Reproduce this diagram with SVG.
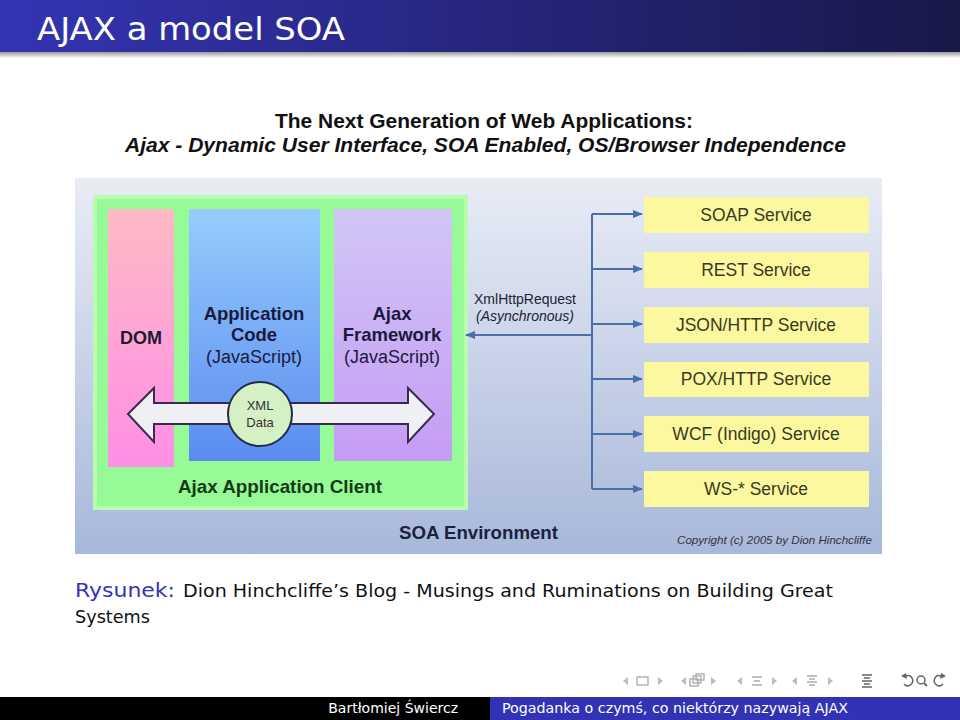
<svg xmlns="http://www.w3.org/2000/svg" width="960" height="720" viewBox="0 0 960 720">
<defs>
<linearGradient id="gTitle" x1="0" y1="0" x2="1" y2="0"><stop offset="0" stop-color="#3434b4"/><stop offset="1" stop-color="#181848"/></linearGradient>
<linearGradient id="gShadow" x1="0" y1="0" x2="0" y2="1"><stop offset="0" stop-color="#999"/><stop offset="1" stop-color="#fff"/></linearGradient>
<linearGradient id="gBg" x1="0" y1="0" x2="0" y2="1"><stop offset="0" stop-color="#e8ecf6"/><stop offset="1" stop-color="#a8b8da"/></linearGradient>
<linearGradient id="gDom" x1="0" y1="0" x2="0" y2="1"><stop offset="0" stop-color="#ffbac4"/><stop offset="1" stop-color="#ff8ee6"/></linearGradient>
<linearGradient id="gApp" x1="0" y1="0" x2="0" y2="1"><stop offset="0" stop-color="#96ccfc"/><stop offset="1" stop-color="#5a8cf0"/></linearGradient>
<linearGradient id="gFw" x1="0" y1="0" x2="0" y2="1"><stop offset="0" stop-color="#d2c6f6"/><stop offset="1" stop-color="#c49cf4"/></linearGradient>
<marker id="ah" markerWidth="10" markerHeight="8" refX="9" refY="4" orient="auto" markerUnits="userSpaceOnUse"><path d="M0,0 L10,4 L0,8 Z" fill="#4a6ea8"/></marker>
<style>
.sb{font-family:"Liberation Sans",Arial,sans-serif;font-weight:bold}
.s{font-family:"Liberation Sans",Arial,sans-serif}
.svc{font-family:"Liberation Sans",Arial,sans-serif;font-size:17.5px;fill:#3a3a20;text-anchor:middle}
.svcbox{fill:#fbf8a0}
.conn{stroke:#4a6ea8;stroke-width:2;fill:none}
.beam{font-family:"DejaVu Sans","Liberation Sans",sans-serif}
.nav{fill:#bbb;stroke:none}
.navs{fill:none;stroke:#aaa;stroke-width:1.3}
</style>
</defs>
<rect width="960" height="720" fill="#fff"/>
<g id="titlebar">
<rect x="0" y="0" width="960" height="52" fill="url(#gTitle)"/>
<rect x="0" y="52" width="960" height="6" fill="url(#gShadow)"/>
<text x="37" y="40" class="beam" font-size="32" fill="#fff" textLength="308" lengthAdjust="spacingAndGlyphs">AJAX a model SOA</text>
</g>
<g id="heading">
<text x="275" y="128" class="sb" font-size="20" fill="#111" textLength="418" lengthAdjust="spacingAndGlyphs">The Next Generation of Web Applications:</text>
<text x="125" y="152" class="sb" font-size="20" font-style="italic" fill="#111" textLength="721" lengthAdjust="spacingAndGlyphs">Ajax - Dynamic User Interface, SOA Enabled, OS/Browser Independence</text>
</g>
<g id="soa-environment">
<rect x="75" y="178" width="807" height="376" fill="url(#gBg)"/>
<text x="399" y="539" class="sb" font-size="18.5" fill="#1a2240" textLength="159" lengthAdjust="spacingAndGlyphs">SOA Environment</text>
<text x="677" y="544" class="s" font-size="11.5" font-style="italic" fill="#334" textLength="195" lengthAdjust="spacingAndGlyphs">Copyright (c) 2005 by Dion Hinchcliffe</text>
</g>
<g id="client">
<rect x="95" y="197" width="371" height="311" fill="#96fa96" stroke="#b8fcb0" stroke-width="4"/>
<text x="178" y="493" class="sb" font-size="18.5" fill="#143c14" textLength="204" lengthAdjust="spacingAndGlyphs">Ajax Application Client</text>
</g>
<g id="dom">
<rect x="108" y="209" width="66" height="258" fill="url(#gDom)"/>
<text x="141" y="344" class="sb" font-size="18" text-anchor="middle" fill="#1a1a30">DOM</text>
</g>
<g id="appcode">
<rect x="189" y="209" width="131" height="252" fill="url(#gApp)"/>
<text x="254" y="320" class="sb" font-size="18.5" text-anchor="middle" fill="#1a1a40">Application</text>
<text x="254" y="341" class="sb" font-size="18.5" text-anchor="middle" fill="#1a1a40">Code</text>
<text x="254" y="363" class="s" font-size="18" text-anchor="middle" fill="#1a1a40">(JavaScript)</text>
</g>
<g id="framework">
<rect x="334" y="209" width="118" height="252" fill="url(#gFw)"/>
<text x="392" y="320" class="sb" font-size="18.5" text-anchor="middle" fill="#1a1a40">Ajax</text>
<text x="392" y="341" class="sb" font-size="18.5" text-anchor="middle" fill="#1a1a40">Framework</text>
<text x="392" y="363" class="s" font-size="18" text-anchor="middle" fill="#1a1a40">(JavaScript)</text>
</g>
<g id="xmldata">
<path d="M128,414 L154,388 L154,403 L408,403 L408,388 L434,414 L408,442 L408,424 L154,424 L154,442 Z" fill="#eef0f4" stroke="#3a2a50" stroke-width="2"/>
<circle cx="260" cy="414" r="32" fill="#d4f0c4" stroke="#1e2e48" stroke-width="2"/>
<text x="260" y="410" class="s" font-size="13" text-anchor="middle" fill="#333">XML</text>
<text x="260" y="427" class="s" font-size="13" text-anchor="middle" fill="#333">Data</text>
</g>
<g id="soap"><rect x="644" y="197" width="225" height="36" class="svcbox"/><text x="756" y="221" class="svc">SOAP Service</text></g>
<g id="rest"><rect x="644" y="252" width="225" height="36" class="svcbox"/><text x="756" y="276" class="svc">REST Service</text></g>
<g id="json"><rect x="644" y="307" width="225" height="36" class="svcbox"/><text x="756" y="331" class="svc">JSON/HTTP Service</text></g>
<g id="pox"><rect x="644" y="362" width="225" height="35" class="svcbox"/><text x="756" y="385" class="svc">POX/HTTP Service</text></g>
<g id="wcf"><rect x="644" y="416" width="225" height="36" class="svcbox"/><text x="756" y="440" class="svc">WCF (Indigo) Service</text></g>
<g id="ws"><rect x="644" y="471" width="225" height="36" class="svcbox"/><text x="756" y="495" class="svc">WS-* Service</text></g>
<g id="connectors">
<path class="conn" d="M592,214 L592,489"/>
<path class="conn" d="M592,214 L642,214" marker-end="url(#ah)"/>
<path class="conn" d="M592,269 L642,269" marker-end="url(#ah)"/>
<path class="conn" d="M592,324 L642,324" marker-end="url(#ah)"/>
<path class="conn" d="M592,379 L642,379" marker-end="url(#ah)"/>
<path class="conn" d="M592,434 L642,434" marker-end="url(#ah)"/>
<path class="conn" d="M592,489 L642,489" marker-end="url(#ah)"/>
<path class="conn" d="M592,335 L466,335" marker-end="url(#ah)"/>
<text x="525" y="304" class="s" font-size="14" text-anchor="middle" fill="#223">XmlHttpRequest</text>
<text x="525" y="321" class="s" font-size="14" font-style="italic" text-anchor="middle" fill="#223">(Asynchronous)</text>
</g>
<g id="caption">
<text x="75" y="597" class="beam" font-size="19" fill="#3434b4" textLength="100" lengthAdjust="spacingAndGlyphs">Rysunek:</text>
<text x="183" y="597" class="beam" font-size="17" fill="#111" textLength="650" lengthAdjust="spacingAndGlyphs">Dion Hinchcliffe’s Blog - Musings and Ruminations on Building Great</text>
<text x="75" y="623" class="beam" font-size="17" fill="#111" textLength="75" lengthAdjust="spacingAndGlyphs">Systems</text>
</g>
<g id="navigation">
<path class="nav" d="M628,677 L623,681 L628,685 Z"/>
<rect x="637" y="677" width="11" height="8" class="navs" stroke="#999"/>
<path class="nav" d="M658,677 L663,681 L658,685 Z"/>
<path class="nav" d="M686,677 L681,681 L686,685 Z"/>
<rect x="693" y="676" width="8" height="7" class="navs"/><rect x="690" y="679" width="8" height="7" class="navs"/><rect x="696" y="674" width="8" height="6" class="navs"/>
<path class="nav" d="M711,677 L716,681 L711,685 Z"/>
<path class="nav" d="M742,677 L737,681 L742,685 Z"/>
<path class="navs" d="M752,677 H762 M754,681 H760 M752,685 H762"/>
<path class="nav" d="M772,677 L777,681 L772,685 Z"/>
<path class="nav" d="M797,677 L792,681 L797,685 Z"/>
<path class="navs" d="M807,676 H817 M809,679 H815 M807,682 H817 M809,685 H815" stroke="#888"/>
<path class="nav" d="M828,677 L833,681 L828,685 Z"/>
<path d="M862,675 H872 M864,678 H870 M862,681 H872 M864,684 H870 M862,687 H872" stroke="#666" stroke-width="1.3" fill="none"/>
<path d="M906,676 A5,5 0 1 1 904,684" stroke="#666" stroke-width="1.5" fill="none"/><path d="M901,676 L906,673 L907,679 Z" fill="#666"/>
<circle cx="921" cy="680" r="4" stroke="#666" stroke-width="1.5" fill="none"/><path d="M924,683 L927,686" stroke="#666" stroke-width="1.8"/>
<path d="M941,676 A5,5 0 1 0 943,684" stroke="#666" stroke-width="1.5" fill="none"/><path d="M946,676 L941,673 L940,679 Z" fill="#666"/>
</g>
<g id="footer">
<rect x="0" y="697" width="490" height="23" fill="#000"/>
<rect x="490" y="697" width="470" height="23" fill="#3232b4"/>
<text x="458" y="713" class="beam" font-size="14" fill="#fff" text-anchor="end">Bartłomiej Świercz</text>
<text x="502" y="713" class="beam" font-size="14" fill="#fff" textLength="346" lengthAdjust="spacingAndGlyphs">Pogadanka o czymś, co niektórzy nazywają AJAX</text>
</g>
</svg>
